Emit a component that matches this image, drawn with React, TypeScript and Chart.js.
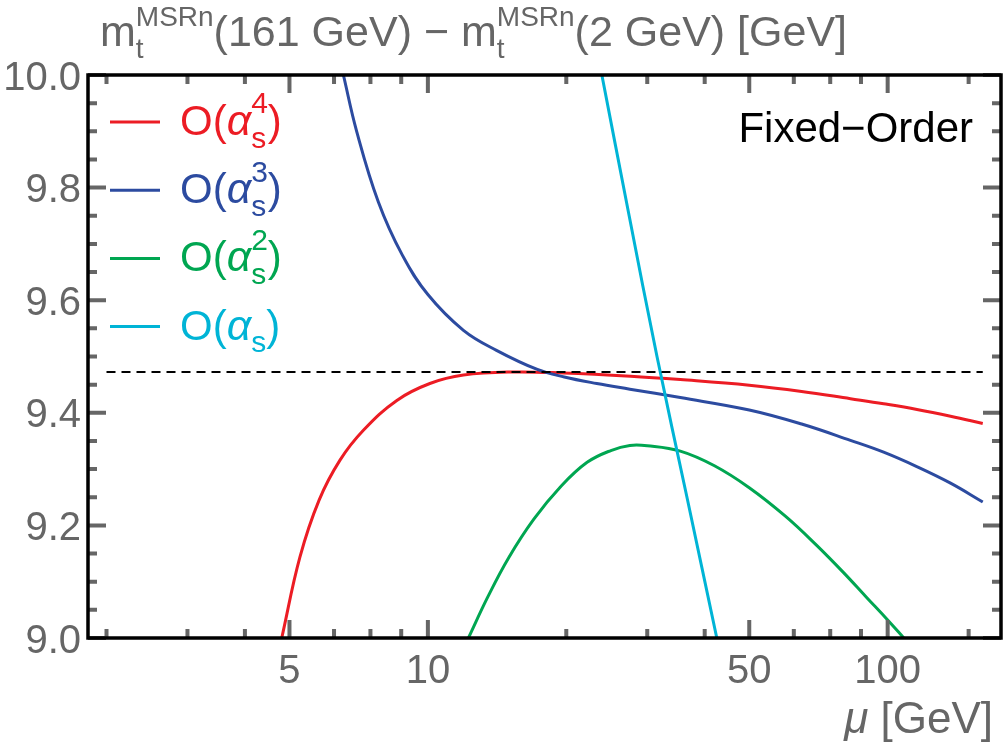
import React, { useEffect, useRef } from "react";
import { Chart, registerables } from "chart.js";

Chart.register(...registerables);

// Renormalization scale mu [GeV] and running mass difference [GeV] per perturbative order
const muO4 = [4.81, 5.27, 5.8, 6.44, 7.24, 8.56, 10.1, 11.95, 15.35, 19.7, 27.6, 35.4, 50, 65, 83, 98, 115.8, 137, 161];
const massO4 = [9.0, 9.144, 9.245, 9.316, 9.369, 9.422, 9.452, 9.467, 9.4725, 9.4707, 9.465, 9.459, 9.449, 9.438, 9.425, 9.416, 9.406, 9.394, 9.381];

const muO3 = [6.55, 7.0, 7.8, 8.8, 10, 11.95, 14.1, 17.3, 19.8, 23.3, 27.5, 35.4, 50, 65, 83, 98, 116, 137, 161];
const massO3 = [10.0, 9.9, 9.775, 9.68, 9.61, 9.5465, 9.511, 9.477, 9.4636, 9.452, 9.442, 9.427, 9.405, 9.38, 9.351, 9.33, 9.304, 9.275, 9.2416];

const muO2 = [12.25, 13.5, 15, 17, 19.5, 22.2, 25, 27.5, 30, 35.4, 42, 50, 60, 70, 80, 90, 100, 108.4];
const massO2 = [9.0, 9.073, 9.143, 9.211, 9.27, 9.312, 9.333, 9.342, 9.3415, 9.332, 9.306, 9.267, 9.216, 9.165, 9.117, 9.072, 9.032, 9.0];

const muO1 = [23.9, 27.4, 31.5, 36.6, 42.5];
const massO1 = [10.0, 9.75, 9.5, 9.25, 9.0];

const muRef = [2, 161];
const massRef = [9.4725, 9.4725];

// Axis ticks
const xMajorTicks = [5, 10, 50, 100];
const xMajorLabels = ["5", "10", "50", "100"];
const xMinorTicks = [2, 3, 4, 6.25, 7.5, 8.75, 20, 30, 40, 62.5, 75, 87.5, 150];
const yMajorTicks = [9.0, 9.2, 9.4, 9.6, 9.8, 10.0];
const yMajorLabels = ["9.0", "9.2", "9.4", "9.6", "9.8", "10.0"];
const yMinorTicks = [9.05, 9.1, 9.15, 9.25, 9.3, 9.35, 9.45, 9.5, 9.55, 9.65, 9.7, 9.75, 9.85, 9.9, 9.95];

const seriesOrders = ["4", "3", "2", ""];
const seriesColors = ["#ec1c24", "#2c4ba0", "#00a651", "#00b4d6"];

const GRAY = "#666666";
const FONT = "'Liberation Sans', Arial, Helvetica, sans-serif";

const toPoints = (xs: number[], ys: number[]) => xs.map((x, i) => ({ x, y: ys[i] }));

type Piece =
  | { text: string; size: number; italic?: boolean }
  | { sup: string; sub: string; size: number };

// Draws a run of text with optional stacked super/subscripts.
function drawRich(
  ctx: CanvasRenderingContext2D,
  x: number,
  y: number,
  pieces: Piece[],
  color: string,
  align: "left" | "right" = "left"
) {
  ctx.save();
  ctx.fillStyle = color;
  ctx.textBaseline = "alphabetic";
  ctx.textAlign = "left";
  const widthOf = (p: Piece) => {
    if ("text" in p) {
      ctx.font = `${p.italic ? "italic " : ""}${p.size}px ${FONT}`;
      return ctx.measureText(p.text).width;
    }
    ctx.font = `${p.size}px ${FONT}`;
    return Math.max(ctx.measureText(p.sup).width, ctx.measureText(p.sub).width);
  };
  const total = pieces.reduce((s, p) => s + widthOf(p), 0);
  let cx = align === "right" ? x - total : x;
  for (const p of pieces) {
    if ("text" in p) {
      ctx.font = `${p.italic ? "italic " : ""}${p.size}px ${FONT}`;
      ctx.fillText(p.text, cx, y);
      cx += ctx.measureText(p.text).width;
    } else {
      ctx.font = `${p.size}px ${FONT}`;
      if (p.sup) ctx.fillText(p.sup, cx, y - p.size * 0.72);
      if (p.sub) ctx.fillText(p.sub, cx, y + p.size * 0.42);
      cx += Math.max(ctx.measureText(p.sup).width, ctx.measureText(p.sub).width);
    }
  }
  ctx.restore();
}

const framePlugin = {
  id: "frameAndLabels",
  afterDatasetsDraw(chart: any) {
    const ctx: CanvasRenderingContext2D = chart.ctx;
    const xs = chart.scales.x;
    const ys = chart.scales.y;
    const { left, right, top, bottom } = chart.chartArea;
    ctx.save();

    // tick marks on all four sides, pointing inwards
    ctx.strokeStyle = GRAY;
    ctx.lineCap = "butt";
    ctx.lineWidth = 4;
    const major = 18;
    const minor = 9;
    const vTick = (px: number, len: number) => {
      ctx.beginPath();
      ctx.moveTo(px, bottom);
      ctx.lineTo(px, bottom - len);
      ctx.moveTo(px, top);
      ctx.lineTo(px, top + len);
      ctx.stroke();
    };
    const hTick = (py: number, len: number) => {
      ctx.beginPath();
      ctx.moveTo(left, py);
      ctx.lineTo(left + len, py);
      ctx.moveTo(right, py);
      ctx.lineTo(right - len, py);
      ctx.stroke();
    };
    xMajorTicks.forEach((v) => vTick(xs.getPixelForValue(v), major));
    xMinorTicks.forEach((v) => vTick(xs.getPixelForValue(v), minor));
    yMajorTicks.forEach((v) => hTick(ys.getPixelForValue(v), major));
    yMinorTicks.forEach((v) => hTick(ys.getPixelForValue(v), minor));

    // frame
    ctx.strokeStyle = "#000";
    ctx.lineWidth = 3.5;
    ctx.strokeRect(left, top, right - left, bottom - top);

    // tick labels
    ctx.fillStyle = GRAY;
    ctx.font = `40px ${FONT}`;
    ctx.textAlign = "center";
    ctx.textBaseline = "alphabetic";
    xMajorTicks.forEach((v, i) => {
      ctx.fillText(xMajorLabels[i], xs.getPixelForValue(v), bottom + 45);
    });
    ctx.textAlign = "right";
    yMajorTicks.forEach((v, i) => {
      ctx.fillText(yMajorLabels[i], left - 7, ys.getPixelForValue(v) + 14.5);
    });

    // axis labels
    drawRich(
      ctx,
      100,
      46,
      [
        { text: "m", size: 43 },
        { sup: "MSRn", sub: "t", size: 28 },
        { text: "(161 GeV) \u2212 m", size: 43 },
        { sup: "MSRn", sub: "t", size: 28 },
        { text: "(2 GeV) [GeV]", size: 43 },
      ],
      GRAY
    );
    drawRich(
      ctx,
      right - 8,
      bottom + 95,
      [
        { text: "\u03bc", size: 44, italic: true },
        { text: " [GeV]", size: 44 },
      ],
      GRAY,
      "right"
    );

    // annotation
    ctx.fillStyle = "#000";
    ctx.font = `42px ${FONT}`;
    ctx.textAlign = "right";
    ctx.fillText("Fixed\u2212Order", right - 28, top + 67);

    // legend
    seriesColors.forEach((c, i) => {
      const y = top + 47 + i * 68.2;
      ctx.strokeStyle = c;
      ctx.lineWidth = 3;
      ctx.beginPath();
      ctx.moveTo(left + 22, y);
      ctx.lineTo(left + 72, y);
      ctx.stroke();
      const pieces: Piece[] = [
        { text: "O(", size: 42 },
        { text: "\u03b1", size: 43, italic: true },
        { sup: seriesOrders[i], sub: "s", size: 30 },
        { text: ")", size: 42 },
      ];
      drawRich(ctx, left + 92, y + 13, pieces, c);
    });

    ctx.restore();
  },
};

export default function App() {
  const canvasRef = useRef<HTMLCanvasElement | null>(null);

  useEffect(() => {
    const canvas = canvasRef.current;
    if (!canvas) return;
    const line = (data: { x: number; y: number }[], color: string, extra: any = {}) => ({
      data,
      borderColor: color,
      borderWidth: 3,
      pointRadius: 0,
      fill: false,
      tension: 0.4,
      ...extra,
    });
    const chart = new Chart(canvas, {
      type: "line",
      data: {
        datasets: [
          line(toPoints(muRef, massRef), "#000", { borderDash: [9, 6], borderWidth: 2, tension: 0 }),
          line(toPoints(muO1, massO1), seriesColors[3]),
          line(toPoints(muO2, massO2), seriesColors[2]),
          line(toPoints(muO3, massO3), seriesColors[1]),
          line(toPoints(muO4, massO4), seriesColors[0]),
        ],
      },
      options: {
        animation: false,
        responsive: false,
        events: [],
        layout: { padding: { left: 88, top: 75, right: 6, bottom: 106 } },
        plugins: { legend: { display: false }, tooltip: { enabled: false }, title: { display: false } },
        scales: {
          x: { type: "logarithmic", min: 1.823, max: 176.4, display: false },
          y: { type: "linear", min: 9.0, max: 10.0, display: false },
        },
      },
      plugins: [framePlugin],
    });
    return () => chart.destroy();
  }, []);

  return (
    <div style={{ position: "absolute", left: 0, top: 0, width: 1007, height: 744, background: "#fff" }}>
      <canvas ref={canvasRef} width={1007} height={744} style={{ display: "block" }} />
    </div>
  );
}
